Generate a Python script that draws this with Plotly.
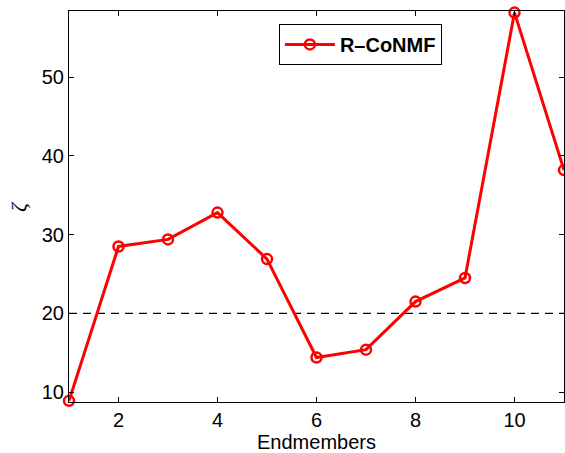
import plotly.graph_objects as go

endmembers = [1, 2, 3, 4, 5, 6, 7, 8, 9, 10, 11]
zeta = [8.9, 28.5, 29.4, 32.8, 26.9, 14.4, 15.4, 21.5, 24.5, 58.2, 38.2]
threshold = 20
x_ticks = [2, 4, 6, 8, 10]
y_ticks = [10, 20, 30, 40, 50]

fig = go.Figure()
fig.add_trace(go.Scatter(
    x=[endmembers[0], endmembers[-1]], y=[threshold, threshold], mode="lines",
    line=dict(color="black", width=1.3, dash="8px,6px"), showlegend=False, hoverinfo="skip"))
fig.add_trace(go.Scatter(
    x=endmembers, y=zeta, mode="lines+markers", name="<b>R\u2013CoNMF</b>",
    line=dict(color="#ff0000", width=3),
    marker=dict(symbol="circle-open", size=10, color="#ff0000", line=dict(width=2.5)),
    cliponaxis=False))

axis_common = dict(
    showgrid=False, zeroline=False, showline=True, linecolor="black", linewidth=1,
    mirror="ticks", ticks="inside", ticklen=5, tickcolor="black",
    tickfont=dict(family="Liberation Sans, Arial", size=20, color="black"))
fig.update_xaxes(range=[1, 11], tickvals=x_ticks,
                 title=dict(text="Endmembers", font=dict(family="Liberation Sans, Arial", size=20, color="black"), standoff=0),
                 **axis_common)
fig.update_yaxes(range=[8.75, 58.4], tickvals=y_ticks, **axis_common)
fig.add_annotation(text="<i>\u03b6</i>", xref="paper", yref="paper", x=-0.102, y=0.5,
                   xanchor="center", yanchor="middle", showarrow=False, textangle=-90,
                   font=dict(family="Liberation Serif, DejaVu Serif", size=22, color="black"))
fig.update_layout(
    width=565, height=453, margin=dict(l=69, r=1, t=11, b=51),
    plot_bgcolor="white", paper_bgcolor="white",
    legend=dict(x=0.424, y=0.967, xanchor="left", yanchor="top",
                bordercolor="black", borderwidth=1, bgcolor="white",
                font=dict(family="Liberation Sans, Arial", size=20, color="black"),
                itemwidth=50, tracegroupgap=0),
)
fig.write_html("out.html")
